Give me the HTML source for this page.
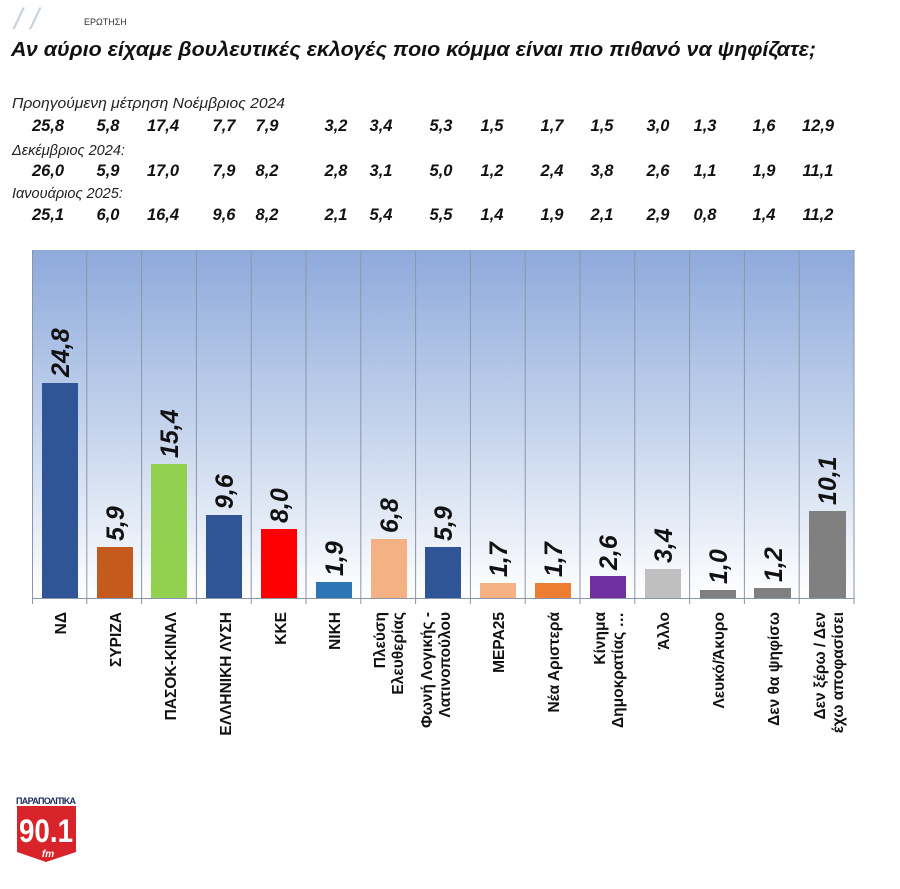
<!DOCTYPE html>
<html><head><meta charset="utf-8"><style>
body{margin:0;background:#fff;width:900px;height:884px;overflow:hidden;font-family:"Liberation Sans","DejaVu Sans",sans-serif}
</style></head><body>
<svg width="900" height="884" xmlns="http://www.w3.org/2000/svg" font-family="'Liberation Sans','DejaVu Sans',sans-serif">
<defs>
<linearGradient id="bg" x1="0" y1="0" x2="0" y2="1">
<stop offset="0" stop-color="#8eaadb"/><stop offset="0.55" stop-color="#c9d7ee"/><stop offset="1" stop-color="#ffffff"/>
</linearGradient>
</defs>
<text x="14" y="29" font-size="30" fill="#c8d0dc" font-style="italic">/ /</text>
<text x="84" y="25" font-size="9" fill="#333">ΕΡΩΤΗΣΗ</text>
<text x="11" y="56" font-size="20" font-weight="bold" font-style="italic" fill="#111" textLength="805" lengthAdjust="spacingAndGlyphs">Αν αύριο είχαμε βουλευτικές εκλογές ποιο κόμμα είναι πιο πιθανό να ψηφίζατε;</text>
<g font-size="14.5" font-style="italic" fill="#222">
<text x="12" y="108" textLength="273" lengthAdjust="spacingAndGlyphs">Προηγούμενη μέτρηση Νοέμβριος 2024</text>
<text x="12" y="155">Δεκέμβριος 2024:</text>
<text x="12" y="198">Ιανουάριος 2025:</text>
</g>
<g font-size="16.5" font-weight="bold" font-style="italic" fill="#111" text-anchor="middle">
<g transform="translate(0,131)">
<text x="48">25,8</text><text x="108">5,8</text><text x="163">17,4</text><text x="224">7,7</text><text x="267">7,9</text><text x="336">3,2</text><text x="381">3,4</text><text x="441">5,3</text><text x="492">1,5</text><text x="552">1,7</text><text x="602">1,5</text><text x="658">3,0</text><text x="705">1,3</text><text x="764">1,6</text><text x="818">12,9</text>
</g>
<g transform="translate(0,176)">
<text x="48">26,0</text><text x="108">5,9</text><text x="163">17,0</text><text x="224">7,9</text><text x="267">8,2</text><text x="336">2,8</text><text x="381">3,1</text><text x="441">5,0</text><text x="492">1,2</text><text x="552">2,4</text><text x="602">3,8</text><text x="658">2,6</text><text x="705">1,1</text><text x="764">1,9</text><text x="818">11,1</text>
</g>
<g transform="translate(0,220)">
<text x="48">25,1</text><text x="108">6,0</text><text x="163">16,4</text><text x="224">9,6</text><text x="267">8,2</text><text x="336">2,1</text><text x="381">5,4</text><text x="441">5,5</text><text x="492">1,4</text><text x="552">1,9</text><text x="602">2,1</text><text x="658">2,9</text><text x="705">0,8</text><text x="764">1,4</text><text x="818">11,2</text>
</g>
</g>
<rect x="32" y="250" width="822" height="348" fill="url(#bg)"/>
<g stroke="#8a96a8" stroke-width="1">
<line x1="32.5" y1="250" x2="32.5" y2="604"/><line x1="86.8" y1="250" x2="86.8" y2="604"/><line x1="141.6" y1="250" x2="141.6" y2="604"/><line x1="196.4" y1="250" x2="196.4" y2="604"/><line x1="251.2" y1="250" x2="251.2" y2="604"/><line x1="306" y1="250" x2="306" y2="604"/><line x1="360.8" y1="250" x2="360.8" y2="604"/><line x1="415.6" y1="250" x2="415.6" y2="604"/><line x1="470.4" y1="250" x2="470.4" y2="604"/><line x1="525.2" y1="250" x2="525.2" y2="604"/><line x1="580" y1="250" x2="580" y2="604"/><line x1="634.8" y1="250" x2="634.8" y2="604"/><line x1="689.6" y1="250" x2="689.6" y2="604"/><line x1="744.4" y1="250" x2="744.4" y2="604"/><line x1="799.2" y1="250" x2="799.2" y2="604"/><line x1="854" y1="250" x2="854" y2="604"/>
<line x1="32" y1="598.5" x2="854" y2="598.5"/>
</g>
<g>
<rect x="42" y="383" width="36" height="215" fill="#2f5597"/>
<rect x="97" y="547" width="36" height="51" fill="#c55a1e"/>
<rect x="151" y="464" width="36" height="134" fill="#92d050"/>
<rect x="206" y="515" width="36" height="83" fill="#2f5597"/>
<rect x="261" y="529" width="36" height="69" fill="#ff0000"/>
<rect x="316" y="582" width="36" height="16" fill="#2e75b6"/>
<rect x="371" y="539" width="36" height="59" fill="#f4b183"/>
<rect x="425" y="547" width="36" height="51" fill="#2f5597"/>
<rect x="480" y="583" width="36" height="15" fill="#f4b183"/>
<rect x="535" y="583" width="36" height="15" fill="#ed7d31"/>
<rect x="590" y="576" width="36" height="22" fill="#7030a0"/>
<rect x="645" y="569" width="36" height="29" fill="#bfbfbf"/>
<rect x="700" y="590" width="36" height="8" fill="#7f7f7f"/>
<rect x="754" y="588" width="37" height="10" fill="#7f7f7f"/>
<rect x="809" y="511" width="37" height="87" fill="#808080"/>
</g>
<g font-size="25" font-weight="bold" font-style="italic" fill="#111">
<text transform="translate(69,377) rotate(-90)">24,8</text>
<text transform="translate(124,541) rotate(-90)">5,9</text>
<text transform="translate(178,458) rotate(-90)">15,4</text>
<text transform="translate(233,509) rotate(-90)">9,6</text>
<text transform="translate(288,523) rotate(-90)">8,0</text>
<text transform="translate(343,576) rotate(-90)">1,9</text>
<text transform="translate(398,533) rotate(-90)">6,8</text>
<text transform="translate(452,541) rotate(-90)">5,9</text>
<text transform="translate(507,577) rotate(-90)">1,7</text>
<text transform="translate(562,577) rotate(-90)">1,7</text>
<text transform="translate(617,570) rotate(-90)">2,6</text>
<text transform="translate(672,563) rotate(-90)">3,4</text>
<text transform="translate(727,584) rotate(-90)">1,0</text>
<text transform="translate(782,582) rotate(-90)">1,2</text>
<text transform="translate(836,505) rotate(-90)">10,1</text>
</g>
<g font-size="15.5" font-weight="bold" fill="#111" text-anchor="end">
<text transform="translate(66,612) rotate(-90)">ΝΔ</text>
<text transform="translate(121,612) rotate(-90)">ΣΥΡΙΖΑ</text>
<text transform="translate(176,612) rotate(-90)">ΠΑΣΟΚ-ΚΙΝΑΛ</text>
<text transform="translate(231,612) rotate(-90)">ΕΛΛΗΝΙΚΗ ΛΥΣΗ</text>
<text transform="translate(286,612) rotate(-90)">ΚΚΕ</text>
<text transform="translate(340,612) rotate(-90)">ΝΙΚΗ</text>
<text transform="translate(385,612) rotate(-90)">Πλεύση</text>
<text transform="translate(403,612) rotate(-90)">Ελευθερίας</text>
<text transform="translate(432,612) rotate(-90)">Φωνή Λογικής -</text>
<text transform="translate(450,612) rotate(-90)">Λατινοπούλου</text>
<text transform="translate(504,612) rotate(-90)">ΜΕΡΑ25</text>
<text transform="translate(559,612) rotate(-90)">Νέα Αριστερά</text>
<text transform="translate(605,612) rotate(-90)">Κίνημα</text>
<text transform="translate(623,612) rotate(-90)">Δημοκρατίας …</text>
<text transform="translate(669,612) rotate(-90)">Άλλο</text>
<text transform="translate(724,612) rotate(-90)">Λευκό/Άκυρο</text>
<text transform="translate(779,612) rotate(-90)">Δεν θα ψηφίσω</text>
<text transform="translate(825,612) rotate(-90)">Δεν ξέρω / Δεν</text>
<text transform="translate(843,612) rotate(-90)">έχω αποφασίσει</text>
</g>
<text x="16" y="804" font-size="9" font-weight="bold" fill="#1a2a5a" textLength="60">ΠΑΡΑΠΟΛΙΤΙΚΑ</text>
<path d="M17,806 H76 V852 L46,862 L17,852 Z" fill="#d8232a"/>
<text x="46" y="842" font-size="32" font-weight="bold" fill="#fff" text-anchor="middle" textLength="54" lengthAdjust="spacingAndGlyphs">90.1</text>
<text x="48" y="857" font-size="10" font-style="italic" font-weight="bold" fill="#fff" text-anchor="middle">fm</text>
</svg>
</body></html>
